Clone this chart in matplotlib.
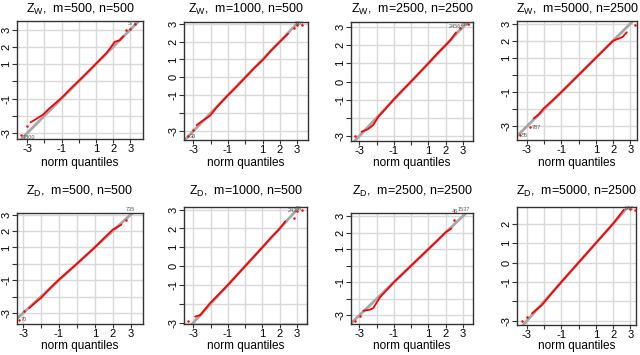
import matplotlib
matplotlib.use("Agg")
import matplotlib.pyplot as plt

plt.rcParams['font.family'] = ['Liberation Sans', 'DejaVu Sans']
plt.rcParams['mathtext.fontset'] = 'custom'
plt.rcParams['mathtext.rm'] = 'Liberation Sans'

# ---- data (theoretical normal quantiles vs sample quantiles) ----
titles = ["Z_W,  m=500, n=500", "Z_W,  m=1000, n=500", "Z_W,  m=2500, n=2500", "Z_W,  m=5000, n=2500",
          "Z_D,  m=500, n=500", "Z_D,  m=1000, n=500", "Z_D,  m=2500, n=2500", "Z_D,  m=5000, n=2500"]

p1_x = [-2.81, -2.5, -2.09, -1.70, -1.3, -1.02, -0.5, -0.05, 0.5, 1.02, 1.3, 1.60, 1.85, 2.09, 2.38, 2.6]
p1_y = [-2.38, -2.2, -1.94, -1.56, -1.22, -0.98, -0.45, -0.02, 0.52, 1.04, 1.33, 1.62, 1.95, 2.29, 2.38, 2.62]
p1_tx = [-3.39, -3.0, 2.77, 2.96, 3.25]
p1_ty = [-3.10, -2.58, 2.96, 3.06, 3.31]

p2_x = [-2.81, -2.5, -2.04, -1.6, -1.0, -0.5, 0.04, 0.5, 1.04, 1.5, 2.0, 2.48]
p2_y = [-2.67, -2.45, -2.15, -1.62, -1.0, -0.52, 0.03, 0.5, 0.99, 1.5, 1.98, 2.44]
p2_tx = [-3.29, -3.0, 2.8, 3.0, 3.3]
p2_ty = [-3.28, -2.95, 2.75, 2.9, 2.9]

p3_x = [-2.87, -2.5, -2.19, -1.9, -1.5, -1.0, -0.5, 0.0, 0.5, 1.0, 1.5, 2.0, 2.3, 2.6]
p3_y = [-2.76, -2.62, -2.39, -1.94, -1.52, -0.98, -0.48, 0.0, 0.5, 1.0, 1.52, 2.0, 2.3, 2.7]
p3_tx = [-3.25, 2.85, 3.3]
p3_ty = [-2.98, 2.95, 3.15]

p4_x = [-2.61, -2.3, -2.03, -1.5, -1.0, -0.5, 0.0, 0.5, 1.0, 1.5, 2.0, 2.3, 2.55, 2.8]
p4_y = [-2.55, -2.3, -1.96, -1.48, -1.0, -0.5, 0.0, 0.5, 1.0, 1.5, 2.0, 2.12, 2.22, 2.5]
p4_tx = [-3.39, -2.81, 3.29]
p4_ty = [-3.52, -3.03, 2.9]

p5_x = [-2.66, -2.3, -2.0, -1.5, -1.0, -0.5, 0.0, 0.5, 1.0, 1.5, 2.0, 2.48]
p5_y = [-2.7, -2.35, -2.08, -1.5, -0.96, -0.48, 0.0, 0.5, 1.0, 1.55, 2.08, 2.39]
p5_tx = [-3.22, -2.95, 2.75, 3.04, 3.2]
p5_ty = [-3.4, -2.9, 2.7, 3.2, 3.3]

p6_x = [-2.9, -2.6, -2.04, -1.75, -1.0, -0.5, 0.0, 0.5, 1.0, 1.5, 1.94, 2.33]
p6_y = [-2.68, -2.6, -1.97, -1.70, -1.0, -0.5, 0.0, 0.5, 1.0, 1.52, 1.93, 2.38]
p6_tx = [-3.29, 2.8, 3.0, 3.3]
p6_ty = [-2.91, 2.56, 2.91, 3.0]

p7_x = [-2.77, -2.4, -2.19, -1.81, -1.0, 0.0, 1.0, 1.5, 2.0, 2.33]
p7_y = [-2.72, -2.66, -2.56, -1.92, -1.0, 0.0, 1.0, 1.5, 2.02, 2.24]
p7_tx = [-3.25, -2.96, 2.5, 2.8, 3.3]
p7_ty = [-3.36, -3.02, 2.74, 3.24, 3.44]

p8_x = [-2.71, -2.13, -1.5, -1.0, 0.0, 1.0, 2.0, 2.33, 2.62]
p8_y = [-2.62, -2.19, -1.52, -1.0, 0.0, 1.0, 2.0, 2.38, 2.72]
p8_tx = [-3.29, -3.0, 3.0, 3.29]
p8_ty = [-3.0, -2.79, 2.76, 2.72]

# outlier id labels: (x, y, text)
labels = [
    [(-3.3, -3.25, "1800"), (2.85, 3.33, "571")],
    [(-3.2, -3.3, "30"), (2.85, 2.98, "326")],
    [(2.2, 3.05, "2456"), (2.8, 3.15, "1877")],
    [(-3.3, -3.55, "55"), (-2.7, -3.05, "787")],
    [(-3.15, -3.4, "70"), (2.75, 3.3, "735")],
    [(2.45, 2.95, "243"), (2.95, 3.05, "58")],
    [(2.35, 3.3, "46"), (2.7, 3.4, "1537")],
    [(2.65, 2.8, "832")],
]

xs = [p1_x, p2_x, p3_x, p4_x, p5_x, p6_x, p7_x, p8_x]
ys = [p1_y, p2_y, p3_y, p4_y, p5_y, p6_y, p7_y, p8_y]
txs = [p1_tx, p2_tx, p3_tx, p4_tx, p5_tx, p6_tx, p7_tx, p8_tx]
tys = [p1_ty, p2_ty, p3_ty, p4_ty, p5_ty, p6_ty, p7_ty, p8_ty]

# ---- layout (pixel boxes: left, right, top, bottom) ----
W, H = 640, 355
boxes = [(17, 143, 21, 139), (184, 308, 22, 140), (351, 473, 22, 141), (517, 637, 21, 140),
         (17, 143, 213, 324), (184, 307, 207, 324), (351, 473, 213, 324), (517, 636, 207, 325)]
xlims = [(-3.6, 3.74), (-3.54, 3.63), (-3.48, 3.58), (-3.58, 3.39),
         (-3.34, 3.69), (-3.54, 3.58), (-3.48, 3.58), (-3.58, 3.33)]
ylims = [(-3.35, 3.5), (-3.5, 3.09), (-3.27, 3.27), (-3.81, 3.16),
         (-3.67, 3.1), (-3.07, 3.14), (-3.52, 3.18), (-3.22, 2.86)]
ylab_show = [[3, 2, 1, -1, -3], [3, 2, 1, 0, -1, -3], [3, 2, 1, 0, -1, -3], [3, 2, 1, -1, -3],
             [3, 2, 1, -1, -3], [3, 2, 1, 0, -1, -3], [3, 2, 1, -1, -3], [2, 1, 0, -1, -3]]
xlab_show = [-3, -1, 1, 2, 3]

fig = plt.figure(figsize=(W / 100, H / 100), dpi=100)

for i in range(8):
    l, r, t, b = boxes[i]
    ax = fig.add_axes([l / W, 1 - b / H, (r - l) / W, (b - t) / H])
    ax.set_xlim(*xlims[i])
    ax.set_ylim(*ylims[i])
    ticks = [-3, -2, -1, 0, 1, 2, 3]
    ax.set_xticks(ticks)
    ax.set_xticklabels([str(v) if v in xlab_show else "" for v in ticks])
    yt = [v for v in ticks if ylims[i][0] <= v <= ylims[i][1]]
    ax.set_yticks(yt)
    ax.set_yticklabels([str(v) if v in ylab_show[i] else "" for v in yt],
                       rotation=90, va='center')
    ax.tick_params(axis='x', labelsize=8, length=3, width=0.8, color='#333333', pad=0.5)
    ax.tick_params(axis='y', labelsize=8, length=3.5, width=0.8, color='#333333', pad=0.5)
    ax.grid(True, color='#d9d9d9', linewidth=1.0)
    ax.set_axisbelow(True)
    for s in ax.spines.values():
        s.set_color('#333333')
        s.set_linewidth(1.0)
    ax.axline((0, 0), slope=1, color='#a6a6a6', linewidth=2.0, zorder=2)
    ax.plot(xs[i], ys[i], color='red', linewidth=1.3, zorder=3, solid_capstyle='round')
    ax.plot(txs[i], tys[i], 'o', color='red', markersize=1.8, markeredgewidth=0, zorder=3)
    for (lx, ly, lt) in labels[i]:
        ax.text(lx, ly, lt, fontsize=4, color='#555555', ha='left', va='center', zorder=4)
    name, rest = titles[i].split(",", 1)
    sub = name.split("_")[1]
    ttl = r"$\mathregular{Z_{%s}}$," % sub + rest
    ty = 9 if i < 4 else 191
    fig.text((l + r) / 2 / W, 1 - ty / H, ttl, fontsize=9, ha='center', va='center')
    xy = 163 if i < 4 else 346
    fig.text((l + r) / 2 / W, 1 - xy / H, "norm quantiles", fontsize=8.5, ha='center', va='center')

fig.savefig("out.png", dpi=100)
